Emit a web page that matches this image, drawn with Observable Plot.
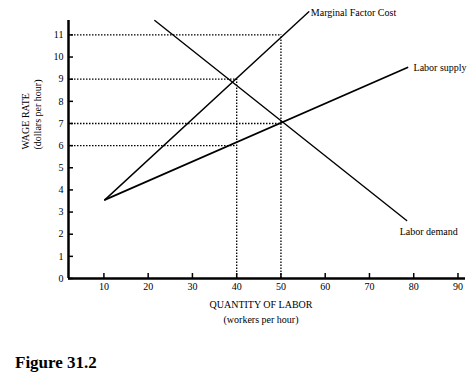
<!DOCTYPE html>
<html><head><meta charset="utf-8">
<script src="https://cdn.jsdelivr.net/npm/d3@7"></script>
<script src="https://cdn.jsdelivr.net/npm/@observablehq/plot@0.6"></script>
<style>
body{margin:0;background:#fff;font-family:"Liberation Serif",serif}
#cap{margin:14px 0 0 15px;font-weight:bold;font-size:17px;line-height:18px;color:#000}
</style></head><body>
<div id="chart"></div>
<div id="cap">Figure 31.2</div>
<script>
// Axis ticks
const xTicks = [10, 20, 30, 40, 50, 60, 70, 80, 90];
const yTicks = [0, 1, 2, 3, 4, 5, 6, 7, 8, 9, 10, 11];
const xDomain = [2, 91.7];
const yDomain = [0, 11.65];

// Curves (quantity of labor, wage rate)
const mfcL = [10.2, 56.3];
const mfcW = [3.55, 12.05];
const supplyL = [10.2, 78.6];
const supplyW = [3.55, 9.53];
const demandL = [21.5, 78.4];
const demandW = [11.65, 2.62];

// Dotted guides
const guideL = [40, 40, 50, 50];
const guideW = [9, 6, 7, 11];

const toPts = (L, W) => L.map((l, i) => ({l, w: W[i]}));
const mfc = toPts(mfcL, mfcW);
const supply = toPts(supplyL, supplyW);
const demand = toPts(demandL, demandW);
const guides = toPts(guideL, guideW);
const verticals = d3.rollups(guides, v => d3.max(v, d => d.w), d => d.l).map(([l, w]) => ({l, w}));

const W = 474, H = 340, mt = 20, mb = 62, ml = 68, mr = 9;
const frameH = H - mt - mb, frameW = W - ml - mr;
const font = "Liberation Serif";

const chart = Plot.plot({
  width: W, height: H,
  marginTop: mt, marginBottom: mb, marginLeft: ml, marginRight: mr,
  style: {fontFamily: font, fontSize: "10px", color: "#000", background: "#fff", overflow: "visible"},
  x: {domain: xDomain, label: null},
  y: {domain: yDomain, label: null},
  marks: [
    // guides
    Plot.ruleY(guides, {y: "w", x1: xDomain[0], x2: "l", stroke: "#000", strokeWidth: 1.3, strokeDasharray: "1.5,1.5"}),
    Plot.ruleX(verticals, {x: "l", y1: 0, y2: "w", stroke: "#000", strokeWidth: 1.3, strokeDasharray: "1.5,1.5"}),
    // axes
    Plot.axisX({ticks: xTicks, tickSize: 0, tickPadding: 4, label: null, fontSize: 10}),
    Plot.axisY({ticks: yTicks, tickSize: 0, tickPadding: 5, label: null, fontSize: 10}),
    Plot.tickX(xTicks, {x: d => d, insetTop: frameH - 5, stroke: "#000", strokeWidth: 1.5}),
    Plot.tickY(yTicks, {y: d => d, insetRight: frameW - 5, stroke: "#000", strokeWidth: 1.5}),
    Plot.ruleY([0], {stroke: "#000", strokeWidth: 2.5}),
    Plot.ruleX([xDomain[0]], {stroke: "#000", strokeWidth: 2.5}),
    // curves
    Plot.line(mfc, {x: "l", y: "w", stroke: "#000", strokeWidth: 1.4}),
    Plot.line(supply, {x: "l", y: "w", stroke: "#000", strokeWidth: 1.7}),
    Plot.line(demand, {x: "l", y: "w", stroke: "#000", strokeWidth: 1.4}),
    // curve labels
    Plot.text([mfc[1]], {x: "l", y: "w", text: () => "Marginal Factor Cost", textAnchor: "start", dx: 2, dy: 1, fontSize: 10, fill: "#000"}),
    Plot.text([supply[1]], {x: "l", y: "w", text: () => "Labor supply", textAnchor: "start", dx: 6, dy: 0, fontSize: 10, fill: "#000"}),
    Plot.text([demand[1]], {x: "l", y: "w", text: () => "Labor demand", textAnchor: "start", dx: -7, dy: 11, fontSize: 10, fill: "#000"}),
    // axis titles
    Plot.text(["QUANTITY OF LABOR"], {frameAnchor: "bottom", dx: -6, dy: 29, fontSize: 10, fill: "#000"}),
    Plot.text(["(workers per hour)"], {frameAnchor: "bottom", dx: -6, dy: 44, fontSize: 10, fill: "#000"}),
    Plot.text(["WAGE RATE"], {frameAnchor: "left", rotate: -90, dx: -43, fontSize: 10, fill: "#000"}),
    Plot.text(["(dollars per hour)"], {frameAnchor: "left", rotate: -90, dx: -31, fontSize: 10, fill: "#000"})
  ]
});
document.getElementById("chart").appendChild(chart);
</script>
</body></html>
